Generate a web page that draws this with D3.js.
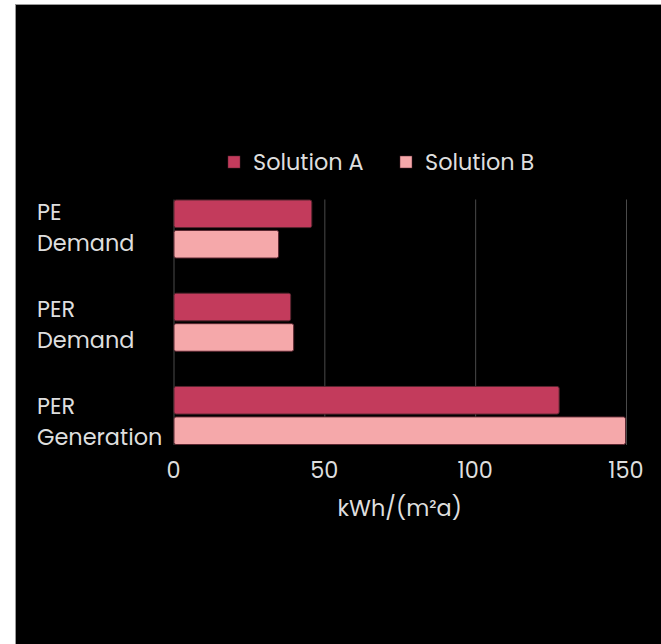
<!DOCTYPE html>
<html>
<head>
<meta charset="utf-8">
<script src="https://cdn.jsdelivr.net/npm/d3@7"></script>
<style>
  html, body { margin: 0; padding: 0; background: #fff; }
  svg { display: block; }
  text { font-family: Poppins, Inter, "Open Sans", sans-serif; fill: #dedede; }
</style>
</head>
<body>
<script>
// Energy indicators, kWh/(m²a)
const categories = [["PE", "Demand"], ["PER", "Demand"], ["PER", "Generation"]];
const seriesNames = ["Solution A", "Solution B"];
const solutionA = [46, 39, 128];
const solutionB = [35, 40, 150];
const xTicks = [0, 50, 100, 150];
const axisTitle = "kWh/(m²a)";
const colors = ["#c33b5c", "#f5a8aa"];

const W = 661, H = 644;
const FS = 22.4;
const svg = d3.select("body").append("svg").attr("width", W).attr("height", H);

// dark panel
svg.append("rect").attr("x", 15.5).attr("y", 4.5).attr("width", W - 15).attr("height", H - 4)
  .attr("fill", "#000").attr("stroke", "#9a9a9a").attr("stroke-width", 1);

const keys = categories.map(c => c.join(" "));
const x = d3.scaleLinear().domain([0, 150]).range([173.5, 626]);
const y = d3.scaleBand().domain(keys).range([199.5, 445]).paddingInner(0.367).paddingOuter(0);
const ySub = d3.scaleBand().domain(seriesNames).range([0, y.bandwidth()]).paddingInner(0.06);
// baselines of the first line of each category label
const yLabel = d3.scalePoint().domain(keys).range([219.5, 413.5]);

// vertical grid lines
svg.append("g").selectAll("line").data(xTicks).join("line")
  .attr("x1", d => x(d) + 0.5).attr("x2", d => x(d) + 0.5)
  .attr("y1", y.range()[0]).attr("y2", y.range()[1])
  .attr("stroke", "#4a4a4a").attr("stroke-width", 1);

// bars
const rows = keys.map((k, i) => ({ key: k, values: [solutionA[i], solutionB[i]] }));
const group = svg.append("g").selectAll("g").data(rows).join("g")
  .attr("transform", d => `translate(0,${y(d.key)})`);
group.selectAll("rect").data(d => d.values.map((v, j) => ({ v, s: seriesNames[j], j }))).join("rect")
  .attr("x", x(0) + 0.5)
  .attr("y", d => ySub(d.s) + 0.5)
  .attr("width", d => x(d.v) - x(0) - 1)
  .attr("height", ySub.bandwidth() - 1)
  .attr("rx", 2).attr("ry", 2)
  .attr("fill", d => colors[d.j])
  .attr("stroke", "#5a2630").attr("stroke-width", 1);

// category labels (two lines)
svg.append("g").selectAll("text").data(categories).join("text")
  .attr("x", 37)
  .attr("y", (d, i) => yLabel(keys[i]))
  .attr("font-size", FS)
  .selectAll("tspan").data(d => d).join("tspan")
  .attr("x", 37)
  .attr("dy", (d, i) => i === 0 ? 0 : 31)
  .text(d => d);

// x axis tick labels
svg.append("g").selectAll("text").data(xTicks).join("text")
  .attr("x", d => x(d)).attr("y", 478)
  .attr("text-anchor", "middle").attr("font-size", FS)
  .text(d => d);

// axis title
svg.append("text").attr("x", (x.range()[0] + x.range()[1]) / 2).attr("y", 516)
  .attr("text-anchor", "middle").attr("font-size", FS).text(axisTitle);

// legend
const legend = svg.append("g").selectAll("g").data(seriesNames).join("g")
  .attr("transform", (d, i) => `translate(${[228, 400][i]},156)`);
legend.append("rect").attr("width", 12).attr("height", 12)
  .attr("fill", (d, i) => colors[i]).attr("stroke", "#5a2630").attr("stroke-width", 0.5);
legend.append("text").attr("x", 25).attr("y", 14).attr("font-size", FS).text(d => d);
</script>
</body>
</html>
